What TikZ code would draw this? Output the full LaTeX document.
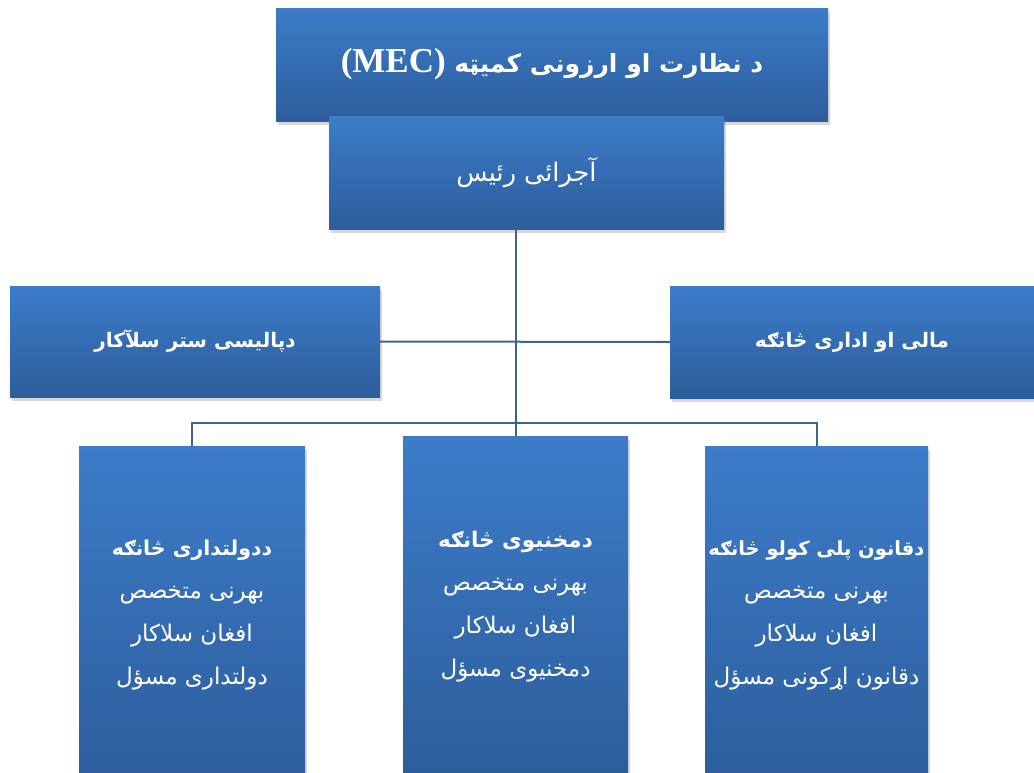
\documentclass[tikz,border=0pt]{standalone}
\usepackage{fontspec}
\setmainfont{Liberation Serif}
\newfontfamily\arabicfont[Script=Arabic]{DejaVu Sans}
\TeXXeTstate=1
\usetikzlibrary{shadows}
\definecolor{boxtop}{HTML}{3C7CC9}
\definecolor{boxbot}{HTML}{2D5D9B}
\definecolor{linec}{HTML}{3D6390}
\tikzset{
  orgbox/.style={draw=none, top color=boxtop, bottom color=boxbot, text=white,
    inner sep=0pt, align=center,
    drop shadow={opacity=0.3, shadow xshift=1.5pt, shadow yshift=-3.5pt}},
  conn/.style={draw=linec, line width=2pt},
  big/.style={font=\arabicfont\bfseries\fontsize{25}{30}\selectfont},
  mid/.style={font=\arabicfont\fontsize{25.5}{30}\selectfont},
  side/.style={font=\arabicfont\bfseries\fontsize{20}{24}\selectfont},
  low/.style={font=\arabicfont\fontsize{23}{43}\selectfont},
}
\newcommand{\rl}[1]{\beginR #1\endR}
\newcommand{\hd}[2][20.5]{{\bfseries\fontsize{#1}{43}\selectfont\beginR #2\endR}}
\begin{document}
\begin{tikzpicture}[x=1pt,y=-1pt]
\fill[white] (0,0) rectangle (1034,772);
\useasboundingbox (0,0) rectangle (1034,772);
% boxes
\node[orgbox, big, minimum width=552pt, minimum height=113pt] (mec) at (552,64.5)
  {\beginR د نظارت او ارزونی کمیټه \beginL{\rmfamily\bfseries\fontsize{35}{40}\selectfont (MEC)}\endL\endR};
\node[orgbox, mid, minimum width=395pt, minimum height=113pt] (rais) at (526.5,172.5)
  {\rl{آجرائی رئیس}};
\node[orgbox, side, minimum width=370pt, minimum height=111pt] (pol) at (195,341.5)
  {\rl{دپالیسی ستر سلآکار}};
\node[orgbox, side, minimum width=364pt, minimum height=112pt] (fin) at (852,342)
  {\rl{مالی او اداری څانګه}};
\node[orgbox, low, minimum width=226pt, minimum height=338pt] (dol) at (192,615)
  {\hd{ددولتداری څانګه}\\ \rl{بهرنی متخصص}\\ \rl{افغان سلاکار}\\ \rl{دولتداری مسؤل}};
\node[orgbox, low, minimum width=225pt, minimum height=342pt] (mkh) at (515.5,607)
  {\hd[21.5]{دمخنیوی څانګه}\\ \rl{بهرنی متخصص}\\ \rl{افغان سلاکار}\\ \rl{دمخنیوی مسؤل}};
\node[orgbox, low, minimum width=223pt, minimum height=338pt] (qan) at (816.5,615)
  {\hd[19.5]{دقانون پلی کولو څانګه}\\ \rl{بهرنی متخصص}\\ \rl{افغان سلاکار}\\ \rl{دقانون اړکونی مسؤل}};
% connectors
\coordinate (bus) at (mkh.north |- 0,423);
\draw[conn] (mkh.north |- rais.south) -- (mkh.north);
\draw[conn] (pol.east) -- (fin.west);
\draw[conn] (dol.north) |- (bus) -| (qan.north);
\end{tikzpicture}
\end{document}
